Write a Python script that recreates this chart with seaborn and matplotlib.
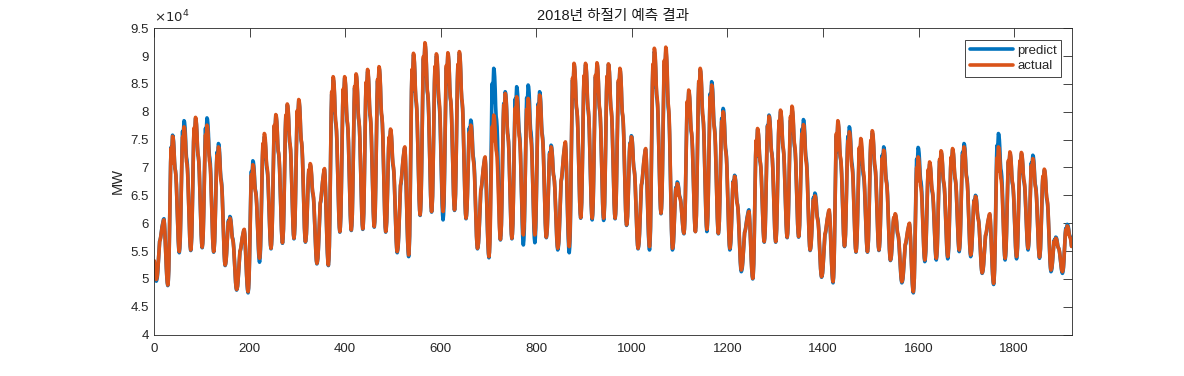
import numpy as np
import pandas as pd
import seaborn as sns
import matplotlib.pyplot as plt
from matplotlib.ticker import FuncFormatter, MultipleLocator

# hourly load, 80 days; per-day trough (~04h) and peak (MW)
act_low = [49900, 48900, 54900, 55200, 55700, 54900, 52500, 48100, 47700, 53700,
           55500, 56500, 57300, 56700, 52800, 52500, 58500, 58800, 59000, 59400,
           58500, 54900, 54300, 61500, 62100, 62100, 62400, 60900, 55500, 54000,
           57100, 57300, 57900, 57900, 57500, 55500, 55800, 61000, 60900, 60900,
           60900, 59700, 55500, 55800, 61800, 55500, 58200, 58500, 58900, 58200,
           55500, 51600, 50100, 56700, 56700, 57500, 57600, 55200, 50400, 49500,
           55900, 54900, 54900, 55200, 53400, 49500, 47700, 53400, 53700, 54000,
           55200, 54300, 51100, 49200, 53700, 54000, 55500, 53900, 51600, 51300,
           52700]
act_peak = [60600, 75600, 77300, 79000, 77600, 73700, 60900, 58900, 70500, 76100,
            79500, 81400, 82200, 70700, 69800, 86300, 86300, 86800, 87600, 88100,
            76900, 73700, 90500, 92400, 90400, 90600, 90800, 77600, 71900, 79400,
            83300, 82700, 82400, 83000, 73700, 74600, 88700, 88700, 88800, 88600,
            87800, 75500, 73400, 91400, 91600, 67100, 83900, 87800, 84800, 80000,
            68400, 62100, 77000, 79200, 80300, 81000, 77700, 64900, 62400, 78400,
            76400, 75200, 76600, 73100, 61700, 60000, 71900, 71000, 73000, 73400,
            73700, 64800, 61700, 73700, 72800, 72700, 71600, 69700, 57300, 59500]

pred_low = [49600, 48800, 54700, 55100, 55600, 54800, 52400, 48000, 47500, 53000,
            55400, 56400, 57200, 56600, 52700, 52400, 58400, 58700, 58900, 59300,
            58400, 54700, 54000, 61400, 62000, 60600, 62300, 60800, 55400, 53800,
            57000, 57200, 56100, 56500, 57400, 55200, 54700, 60900, 60600, 60500,
            60800, 59600, 55400, 55200, 61700, 55200, 58100, 58500, 58500, 58100,
            55200, 51300, 50000, 56600, 56600, 57400, 57500, 55100, 50300, 49300,
            55800, 54800, 54800, 55100, 53300, 49300, 47500, 53100, 53400, 53600,
            54900, 54000, 51000, 49000, 53400, 53600, 55200, 53700, 51300, 51000,
            52600]
pred_peak = [60800, 75800, 78400, 78800, 78900, 74300, 61200, 58800, 71200, 75500,
             79300, 81200, 82000, 70400, 69600, 85800, 86000, 86500, 87200, 87800,
             76600, 73500, 90200, 92000, 90000, 90300, 90500, 78500, 71700, 87800,
             83600, 84500, 84800, 83600, 74000, 74400, 88400, 88400, 88500, 88500,
             87500, 75700, 73200, 90800, 90800, 67400, 83600, 87500, 85400, 80600,
             68600, 62400, 76800, 79400, 80000, 80300, 78600, 65400, 62200, 78000,
             77300, 74200, 76200, 73700, 61500, 59800, 73600, 70600, 72700, 73200,
             74300, 65000, 61500, 76100, 72500, 72400, 72200, 69500, 57500, 59800]

prev_peak = 60000  # evening before the first day

# 'S' = sunday-like day (evening peak), 'W' = working day
day_kind = list("SWWWWWW" * 6 + "SWWWWWWWW" + "SWWWWWW" * 3 + "SWWWWWWW")

# day shape from the trough (04h) to the next trough, as a share of the swing
shape = {
    'W': [0.00, 0.03, 0.10, 0.25, 0.45, 0.66, 0.82, 0.92, 0.82, 0.93, 1.00, 0.99,
          0.95, 0.88, 0.78, 0.72, 0.70, 0.66, 0.58, 0.46, 0.33, 0.20, 0.10, 0.03],
    'S': [0.00, 0.02, 0.06, 0.15, 0.28, 0.42, 0.55, 0.64, 0.66, 0.70, 0.76, 0.82,
          0.87, 0.91, 0.95, 0.99, 1.00, 0.93, 0.80, 0.62, 0.44, 0.27, 0.13, 0.04],
}
top_at = {'W': 10, 'S': 16}


def hourly(lows, peaks):
    vals = []
    for k in range(20, 24):
        vals.append(lows[0] + shape['W'][k] * (prev_peak - lows[0]))
    for d, kind in enumerate(day_kind):
        for k, f in enumerate(shape[kind]):
            base = lows[d] if k <= top_at[kind] else lows[d + 1]
            vals.append(base + f * (peaks[d] - base))
    return vals[:1920]


df = pd.DataFrame({
    'hour': np.arange(1, 1921),
    'predict': hourly(pred_low, pred_peak),
    'actual': hourly(act_low, act_peak),
})

sns.set_style("white")
plt.rcParams['font.family'] = ['Liberation Sans', 'Noto Sans CJK KR', 'DejaVu Sans']

fig = plt.figure(figsize=(11.84, 3.76), dpi=100)
ax = fig.add_axes([0.13, 0.11, 0.775, 0.815])

sns.lineplot(data=df, x='hour', y='predict', ax=ax, color='#0072BD', linewidth=2.6, label='predict')
sns.lineplot(data=df, x='hour', y='actual', ax=ax, color='#D95319', linewidth=2.6, label='actual')

ax.set_xlim(0, 1920)
ax.set_ylim(40000, 95000)
ax.xaxis.set_major_locator(MultipleLocator(200))
ax.yaxis.set_major_locator(MultipleLocator(5000))
ax.yaxis.set_major_formatter(FuncFormatter(lambda v, p: f'{v / 1e4:g}'))
ax.tick_params(direction='in', top=True, right=True, length=6.5, width=0.6,
               colors='#262626', labelsize=9.5)
ax.tick_params(axis='x', pad=6)
for sp in ax.spines.values():
    sp.set_color('#262626')
    sp.set_linewidth(0.6)

ax.set_xlabel('')
ax.set_ylabel('MW', fontsize=10.5, color='#262626')
ax.set_title('2018년 하절기 예측 결과', fontsize=10.5, color='#1a1a1a', pad=6)
ax.text(0.0, 1.008, r'$\times 10^{4}$', transform=ax.transAxes, fontsize=9.5,
        color='#262626', ha='left', va='bottom')

leg = ax.legend(loc='upper right', bbox_to_anchor=(0.989, 0.962), fontsize=9.5,
                frameon=True, fancybox=False, framealpha=1, edgecolor='#262626',
                handlelength=3.3, borderpad=0.35, labelspacing=0.25, handletextpad=0.3,
                borderaxespad=0)
leg.get_frame().set_linewidth(0.6)

fig.savefig('out.png', dpi=100)
